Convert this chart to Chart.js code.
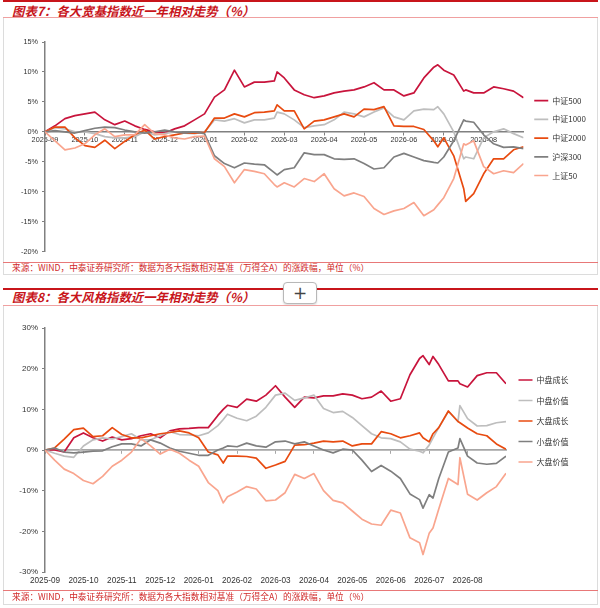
<!DOCTYPE html>
<html><head><meta charset="utf-8">
<script src="https://cdn.jsdelivr.net/npm/chart.js@4.4.1/dist/chart.umd.min.js"></script>
<style>
body{margin:0;background:#fff;width:600px;height:608px;position:relative;overflow:hidden;font-family:"Noto Sans CJK SC",sans-serif;}
.thick{position:absolute;left:3px;width:595px;height:2px;background:#C8151B;}
.thin{position:absolute;left:3px;width:595px;height:1px;background:#F0A0A0;}
.srcline{position:absolute;left:3px;width:595px;height:1px;background:#E87878;}
.title{position:absolute;left:12px;font-size:12.4px;font-weight:bold;font-style:italic;color:#C8151B;line-height:14px;white-space:nowrap;}
.box{position:absolute;left:3px;width:593px;border:1px solid #DCDCDC;border-top:none;}
.src{position:absolute;left:12px;font-size:8.7px;color:#D02A2A;line-height:11px;white-space:nowrap;}
.btn{position:absolute;left:283px;top:282px;width:32px;height:20px;border:1px solid #B8B8B8;border-radius:4px;background:#fff;color:#444;font-family:"DejaVu Sans",sans-serif;font-size:17px;line-height:20px;text-align:center;box-shadow:0 1px 2px rgba(0,0,0,0.15);}
canvas{position:absolute;left:0;}
</style>
</head><body>
<div class="thick" style="top:0px"></div>
<div class="title" style="top:4px">图表7：各大宽基指数近一年相对走势（%）</div>
<div class="thin" style="top:17px"></div>
<div class="box" style="top:18px;height:256px"></div>
<canvas id="c1" width="600" height="240" style="top:20px"></canvas>
<div class="srcline" style="top:262px"></div>
<div class="src" style="top:262px">来源：WIND，中泰证券研究所：数据为各大指数相对基准（万得全A）的涨跌幅，单位（%）</div>

<div class="thick" style="top:288px"></div>
<div class="btn">+</div>
<div class="title" style="top:290px">图表8：各大风格指数近一年相对走势（%）</div>
<div class="thin" style="top:305px"></div>
<div class="box" style="top:306px;height:298px"></div>
<canvas id="c2" width="600" height="285" style="top:310px"></canvas>
<div class="srcline" style="top:590px"></div>
<div class="src" style="top:591px">来源：WIND，中泰证券研究所：数据为各大指数相对基准（万得全A）的涨跌幅，单位（%）</div>

<script>
// month tick labels (tick i sits at position i on the month axis)
const monthLabels = ['2025-09','2025-10','2025-11','2025-12','2026-01','2026-02','2026-03','2026-04','2026-05','2026-06','2026-07','2026-08'];

// Chart 7: sample positions along the month axis
const monthPos1 = [0,0.25,0.5,0.75,1,1.25,1.5,1.75,2,2.25,2.5,2.75,3,3.25,3.5,3.75,4,4.25,4.5,4.75,5,5.25,5.5,5.75,5.82,6,6.25,6.5,6.75,7,7.25,7.5,7.75,8,8.25,8.5,8.75,9,9.25,9.5,9.75,9.85,10,10.25,10.5,10.55,10.75,11,11.25,11.5,11.75,12];
const names1 = ['中证500','中证1000','中证2000','沪深300','上证50'];
const zz500  = [0,1.0,2.2,2.7,3.0,3.3,2.0,1.2,1.8,1.0,0.4,0.0,-0.2,0.5,1.0,2.0,3.0,5.8,7.0,10.3,7.5,8.3,8.3,8.5,10.0,9.0,7.0,6.2,5.7,6.0,6.5,6.8,7.0,7.5,8.2,7.0,7.0,6.0,6.5,9.0,10.8,11.2,10.3,9.5,6.8,7.0,6.5,6.5,7.5,7.2,6.8,5.7];
const zz1000 = [0,0.7,0.5,0.0,0.0,-0.3,-0.8,-1.0,-1.0,-0.8,0.0,-0.5,-0.3,0.0,-0.2,-0.3,0.0,2.0,1.8,2.2,1.5,2.0,2.0,2.3,3.3,3.0,2.0,0.7,1.0,1.2,2.0,3.3,3.0,2.5,3.3,4.0,2.5,2.0,3.5,3.8,3.7,4.2,3.0,0.0,-4.5,-4.2,-4.5,-1.0,0.0,0.5,-0.3,-1.0];
const zz2000 = [0,0.8,0.8,-1.0,-2.3,-2.6,-1.4,-2.8,-1.6,-0.5,0.3,-1.2,-0.8,-0.5,-0.2,-0.2,-0.1,2.3,2.3,3.0,2.5,3.2,3.3,3.5,4.5,3.5,3.5,0.5,1.8,2.0,2.5,3.0,2.5,3.8,3.7,4.2,1.0,0.9,0.9,0.4,-1.5,-2.5,-1.0,-4.0,-9.5,-11.6,-10.3,-7.0,-4.5,-4.5,-3.0,-2.5];
const hs300  = [0,0.2,0.0,-0.2,0.2,0.6,0.8,0.7,0.3,0.0,-0.2,0.0,0.3,0.0,-0.2,0.0,-0.3,-4.0,-5.3,-6.0,-5.2,-5.4,-5.5,-6.8,-7.2,-6.3,-6.0,-3.5,-3.8,-3.8,-4.5,-4.6,-4.5,-5.3,-6.2,-6.0,-4.2,-3.6,-4.2,-4.8,-5.1,-5.2,-4.2,-1.5,2.0,1.8,1.6,-0.5,-2.0,-2.6,-2.5,-2.8];
const sz50   = [0,-1.5,-3.0,-2.7,-2.0,-0.5,0.5,-0.8,-0.5,-0.5,1.2,-0.3,-0.5,-1.0,-1.2,-0.8,-0.7,-4.5,-5.8,-8.5,-6.3,-6.6,-7.0,-8.8,-9.2,-8.5,-9.2,-7.8,-8.3,-7.0,-9.5,-10.7,-10.2,-10.8,-12.8,-13.8,-13.2,-12.8,-11.8,-14.0,-13.0,-12.2,-11.0,-7.8,-2.0,-2.2,-1.5,-5.8,-7.0,-6.5,-6.8,-5.3];

// Chart 8: sample positions along the month axis
const monthPos2 = [0,0.25,0.5,0.75,1,1.25,1.5,1.75,2,2.25,2.5,2.75,3,3.25,3.5,3.75,4,4.25,4.5,4.64,4.75,5,5.25,5.5,5.75,6,6.25,6.5,6.75,7,7.25,7.5,7.75,8,8.25,8.5,8.75,9,9.25,9.5,9.75,9.84,10,10.1,10.25,10.5,10.75,10.8,11,11.25,11.5,11.75,12];
const names2 = ['中盘成长','中盘价值','大盘成长','小盘价值','大盘价值'];
const midGrowth   = [0,0.0,-0.5,3.0,4.2,3.0,2.2,3.2,2.5,2.8,3.5,4.0,3.0,4.7,5.2,5.3,5.5,5.5,8.5,10.0,11.0,10.5,12.5,12.0,13.5,15.8,13.0,10.5,13.0,12.8,13.3,13.3,13.8,13.5,12.6,13.0,14.5,12.0,12.6,18.5,22.5,23.2,21.0,23.0,21.0,17.0,17.0,16.3,15.5,18.3,19.0,19.0,16.3];
const midValue    = [0,-0.8,-1.5,-1.8,1.0,2.5,3.0,2.7,3.3,4.0,2.5,2.5,3.5,4.5,3.8,3.7,3.5,4.2,6.0,7.5,8.8,7.8,7.2,8.3,10.5,13.5,14.0,12.2,12.8,13.5,10.2,9.2,9.5,8.0,6.0,4.0,3.0,2.8,2.0,0.2,-0.3,-0.7,1.2,3.0,5.5,9.5,7.0,10.9,7.7,5.9,6.0,6.7,7.0];
const largeGrowth = [0,0.5,2.7,5.0,5.4,3.3,3.5,5.5,3.8,3.0,3.0,3.5,4.0,4.3,4.7,4.2,3.0,-0.5,-1.2,-3.2,-1.5,-1.5,-1.6,-2.0,-4.5,-3.7,-2.8,1.2,1.3,1.7,2.2,2.0,2.2,1.0,1.5,1.5,4.5,4.0,3.0,3.5,4.2,3.0,2.0,4.0,5.5,9.6,7.0,6.7,5.4,4.0,3.5,1.5,0.2];
const smallValue  = [0,0.5,-0.5,-0.7,-0.5,-0.3,-0.2,0.8,1.5,1.5,1.0,2.5,1.7,0.5,-0.3,-0.8,-1.3,-1.3,0.0,0.5,1.0,0.8,1.7,1.0,0.7,2.0,2.2,1.5,2.0,1.0,0.0,-0.7,0.2,0.0,-2.5,-5.3,-3.8,-5.2,-7.0,-10.8,-12.2,-14.3,-11.0,-11.8,-7.0,-0.5,0.5,2.8,-1.5,-3.2,-3.5,-3.3,-1.5];
const largeValue  = [0,-2.5,-4.7,-5.8,-7.5,-8.3,-6.5,-4.0,-2.5,-0.5,2.8,1.0,-1.0,0.2,-0.8,-2.5,-4.0,-8.0,-10.0,-13.0,-11.5,-10.3,-9.0,-9.6,-12.5,-12.3,-10.5,-6.0,-7.0,-5.8,-10.0,-12.4,-13.0,-15.0,-17.0,-18.2,-18.5,-14.8,-15.5,-21.6,-22.8,-25.7,-20.5,-19.2,-14.5,-7.0,-8.5,-1.9,-10.9,-12.3,-10.5,-9.0,-5.7];

const colors = ['#C8143C','#BEBEBE','#E84B10','#7F7F7F','#F9A58E'];

Chart.defaults.font.family = "'Liberation Sans', Arial, sans-serif";
Chart.defaults.color = '#333';

function makeSets(names, pos, series){
  return names.map((n,i)=>({
    label:n,
    data: pos.map((x,j)=>({x:x, y:series[i][j]})),
    borderColor:colors[i], backgroundColor:colors[i],
    borderWidth:1.7, pointRadius:0, tension:0, borderJoinStyle:'round',
    order: names.length - i
  }));
}
function legendOpts(titlePad, itemPad){
  return {
    position:'right', align:'start',
    title:{display:true, text:'', padding:{top:titlePad, bottom:0}, font:{size:8}},
    labels:{usePointStyle:true, pointStyle:'line', pointStyleWidth:14, padding:itemPad, color:'#333',
      font:{family:"'Noto Sans CJK SC', sans-serif", size:8},
      sort:(a,b)=>a.datasetIndex-b.datasetIndex}
  };
}

new Chart(document.getElementById('c1'), {
  type:'line',
  data:{datasets: makeSets(names1, monthPos1, [zz500,zz1000,zz2000,hs300,sz50])},
  options:{
    responsive:false, animation:false,
    layout:{padding:{top:22,bottom:8,left:0,right:4}},
    plugins:{legend:legendOpts(34.4,10.7), tooltip:{enabled:false}},
    scales:{
      x:{type:'linear', min:0, max:12, position:{y:0},
        ticks:{stepSize:1, autoSkip:false, maxRotation:0, padding:1, color:'#333', font:{size:7.3},
          callback:v=>monthLabels[v] ?? null},
        grid:{drawOnChartArea:false, tickLength:3, color:'#808080'},
        border:{color:'#808080', width:1.5}},
      y:{min:-20, max:15,
        ticks:{stepSize:5, padding:4, color:'#333', font:{size:7.3}, callback:v=>v+'%'},
        grid:{drawOnChartArea:false, tickLength:3, color:'#808080'},
        border:{color:'#808080', width:1.5},
        afterFit:s=>{s.width=45;}}
    }
  }
});

new Chart(document.getElementById('c2'), {
  type:'line',
  data:{datasets: makeSets(names2, monthPos2, [midGrowth,midValue,largeGrowth,smallValue,largeValue])},
  options:{
    responsive:false, animation:false,
    layout:{padding:{top:18,bottom:8,left:0,right:21.5}},
    plugins:{legend:legendOpts(25.9,12.5), tooltip:{enabled:false}},
    scales:{
      x:{type:'linear', min:0, max:12, position:'bottom',
        ticks:{stepSize:1, autoSkip:false, maxRotation:0, padding:4, color:'#333', font:{size:8.2},
          callback:v=>monthLabels[v] ?? null},
        grid:{display:false, drawTicks:false},
        border:{display:false},
        afterFit:s=>{s.height=15;}},
      x2:{type:'linear', min:0, max:12, position:{y:0},
        ticks:{stepSize:1, autoSkip:false, maxRotation:0, callback:v=>(v<12 ? '' : null)},
        grid:{drawOnChartArea:false, tickLength:3, color:'#A6A6A6'},
        border:{color:'#A6A6A6', width:1.8}},
      y:{min:-30, max:30,
        ticks:{stepSize:10, padding:4, color:'#333', font:{size:8}, callback:v=>v+'%'},
        grid:{drawOnChartArea:false, tickLength:3, color:'#808080'},
        border:{color:'#808080', width:1.5},
        afterFit:s=>{s.width=45;}}
    }
  }
});
</script>
</body></html>
